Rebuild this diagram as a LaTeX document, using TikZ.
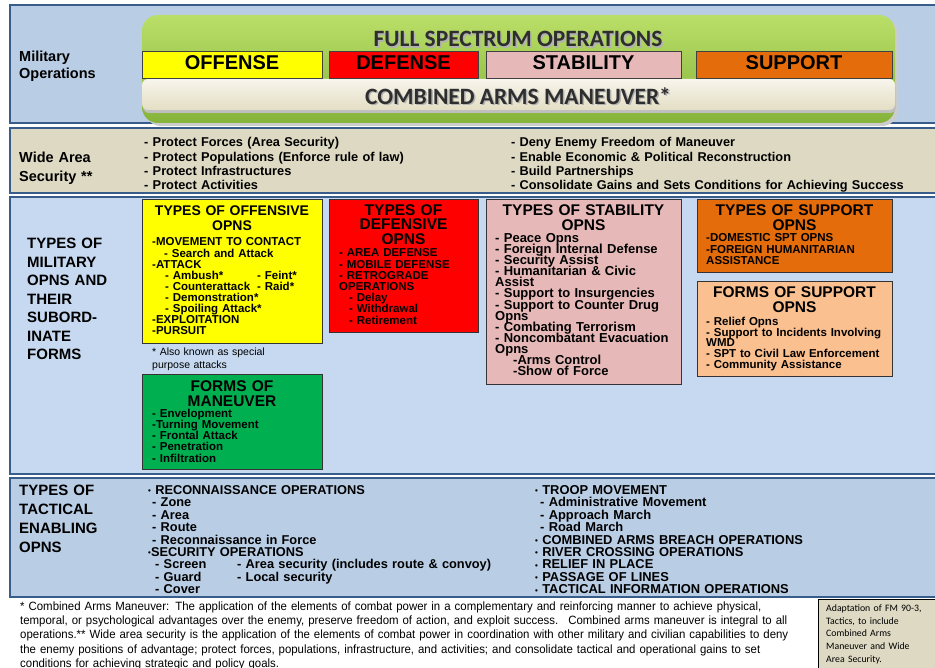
\documentclass[tikz,border=0pt]{standalone}
\usepackage{fontspec}
\setmainfont{Liberation Sans}
\newfontfamily\calf{Carlito}
\newfontfamily\narrowf{Liberation Sans}[FakeStretch=0.952]
\newcommand\fsz[2]{\fontsize{#1pt}{#2pt}\selectfont\lineskiplimit=-50pt\lineskip=0pt}
\newcommand\smbul{\raisebox{0.6pt}{\fontsize{8pt}{8pt}\selectfont •}}
\definecolor{bandline}{HTML}{385D8A}
\definecolor{bandA}{HTML}{B9CDE5}
\definecolor{bandB}{HTML}{DDD9C3}
\definecolor{bandC}{HTML}{C6D9F1}
\definecolor{grnT}{HTML}{BADF68}
\definecolor{grnB}{HTML}{86B33A}
\definecolor{creamT}{HTML}{F7F5EC}
\definecolor{creamB}{HTML}{E4DEC4}
\definecolor{offY}{HTML}{FFFF00}
\definecolor{defR}{HTML}{FF0000}
\definecolor{stabP}{HTML}{E6B9B8}
\definecolor{supO}{HTML}{E46C0A}
\definecolor{supL}{HTML}{FAC090}
\definecolor{manG}{HTML}{00B050}
\definecolor{hdrtxt}{HTML}{2E2E2E}
\begin{document}
\begin{tikzpicture}[x=1pt,y=-1pt,
  band/.style={draw=bandline, line width=1.6pt},
  hbox/.style={draw=black!75, line width=0.7pt, anchor=north west, inner sep=0pt, outer sep=0pt},
  hlabel/.style={font=\bfseries\fsz{20}{20}, inner sep=0pt, text=black},
  tbox/.style={draw=black!80, line width=0.8pt, anchor=north west, inner sep=0pt, outer sep=0pt},
  ttl/.style={anchor=north, inner sep=0pt, align=center, font=\bfseries\fsz{15.5}{15}},
  lst/.style={anchor=north west, inner sep=0pt, align=left, text width=300pt},
  side/.style={anchor=north west, inner sep=0pt, align=left, text width=120pt, font=\bfseries\fsz{14.5}{18.5}},
  big/.style={inner sep=0pt, font=\calf\bfseries\fsz{23.4}{23.4}},
]
\useasboundingbox (0,0) rectangle (935,668);
\fill[white] (0,0) rectangle (935,668);

% bands
\draw[band, fill=bandA] (10,5) rectangle (940,123);
\draw[band, fill=bandB] (10,128) rectangle (940,193);
\draw[band, fill=bandC] (10,197) rectangle (940,474);
\draw[band, fill=bandA] (10,478) rectangle (940,597);

% full spectrum header
\fill[black!20, rounded corners=16pt] (145,18) rectangle (898,126);
\path[rounded corners=16pt, top color=grnT, bottom color=grnB] (142,15) rectangle (895,123);
\fill[black!25, rounded corners=6pt] (143,83) rectangle (896,113);
\path[rounded corners=6pt, top color=creamT, bottom color=creamB] (142,79) rectangle (895,110);

\node[big, text=black!30] (fsoS) at (519.5,40.5) {FULL SPECTRUM OPERATIONS};
\node[big, text=hdrtxt] (fso) at (518,39) {FULL SPECTRUM OPERATIONS};
\node[big, text=black!30] (camS) at (519.5,97.5) {COMBINED ARMS MANEUVER*};
\node[big, text=hdrtxt] (cam) at (518,96) {COMBINED ARMS MANEUVER*};

\node[hbox, fill=offY, minimum width=180pt, minimum height=27pt] (hoff) at (142,51) {};
\node[hbox, fill=defR, minimum width=149pt, minimum height=27pt] (hdef) at (329,51) {};
\node[hbox, fill=stabP, minimum width=195pt, minimum height=27pt] (hstab) at (486,51) {};
\node[hbox, fill=supO, minimum width=196pt, minimum height=27pt] (hsup) at (696,51) {};
\node[hlabel] (hoffT) at (232,62.5) {OFFENSE};
\node[hlabel] (hdefT) at (403.5,62.5) {DEFENSE};
\node[hlabel] (hstabT) at (583.5,62.5) {STABILITY};
\node[hlabel] (hsupT) at (794,62.5) {SUPPORT};

% side labels
\node[side, font=\bfseries\fsz{14.5}{17.5}] (milops) at (19,50.6) {Military\\Operations};
\node[side, font=\bfseries\fsz{14.5}{19.5}] (was) at (19,151.6) {Wide Area\\Security **};
\node[side, font=\bfseries\fsz{15}{18.5}] (types) at (27,238) {TYPES OF\\MILITARY\\OPNS AND\\THEIR\\SUBORD-\\INATE\\FORMS};
\node[side, font=\bfseries\fsz{15}{19}] (tact) at (19,484.5) {TYPES OF\\TACTICAL\\ENABLING\\OPNS};

% wide area lists
\node[lst, font=\bfseries\fsz{12.8}{14.3}] (wasL) at (144,137.3) {- Protect Forces (Area Security)\\- Protect Populations (Enforce rule of law)\\- Protect Infrastructures\\- Protect Activities};
\node[lst, text width=420pt, font=\bfseries\fsz{12.75}{14.3}] (wasR) at (511,137.3) {- Deny Enemy Freedom of Maneuver\\- Enable Economic \& Political Reconstruction\\- Build Partnerships\\- Consolidate Gains and Sets Conditions for Achieving Success};

% offensive
\node[tbox, fill=offY, minimum width=180pt, minimum height=144pt] (off) at (142,199) {};
\node[ttl, text width=180pt, font=\bfseries\fsz{14}{15}] (offT) at (232,205.8) {TYPES OF OFFENSIVE\\OPNS};
\node[lst, font=\bfseries\fsz{11.5}{11.1}] (offL) at (152,237.7) {-MOVEMENT TO CONTACT\\
\hspace*{12pt}- Search and Attack\\
-ATTACK\\
\hspace*{13pt}\makebox[92pt][l]{- Ambush*}- Feint*\\
\hspace*{13pt}\makebox[92pt][l]{- Counterattack}- Raid*\\
\hspace*{13pt}- Demonstration*\\
\hspace*{13pt}- Spoiling Attack*\\
-EXPLOITATION\\
-PURSUIT};
\node[lst, font=\fsz{10.5}{13}] (note) at (152,348) {* Also known as special\\purpose attacks};

% forms of maneuver
\node[tbox, fill=manG, minimum width=180pt, minimum height=95pt] (man) at (142,374) {};
\node[ttl, text width=180pt] (manT) at (232,380.3) {FORMS OF\\MANEUVER};
\node[lst, font=\bfseries\fsz{11.5}{11.25}] (manL) at (152,408.7) {- Envelopment\\-Turning Movement\\- Frontal Attack\\- Penetration\\- Infiltration};

% defensive
\node[tbox, fill=defR, minimum width=149pt, minimum height=133pt] (def) at (329,199) {};
\node[ttl, text width=149pt, font=\bfseries\fsz{15.5}{14.5}] (defT) at (403.5,204.3) {TYPES OF\\DEFENSIVE\\OPNS};
\node[lst, font=\bfseries\fsz{11.5}{11.2}] (defL) at (339,248.7) {- AREA DEFENSE\\- MOBILE DEFENSE\\- RETROGRADE\\OPERATIONS\\\hspace*{10pt}- Delay\\\hspace*{10pt}- Withdrawal\\\hspace*{10pt}- Retirement};

% stability
\node[tbox, fill=stabP, minimum width=195pt, minimum height=185pt] (stab) at (486,199) {};
\node[ttl, text width=195pt] (stabT) at (583.5,204.3) {TYPES OF STABILITY\\OPNS};
\node[lst, font=\bfseries\fsz{13}{11.1}] (stabL) at (495,233.2) {- Peace Opns\\- Foreign Internal Defense\\- Security Assist\\- Humanitarian \& Civic\\Assist\\- Support to Insurgencies\\- Support to Counter Drug\\Opns\\- Combating Terrorism\\- Noncombatant Evacuation\\Opns\\\hspace*{18pt}-Arms Control\\\hspace*{18pt}-Show of Force};

% support
\node[tbox, fill=supO, minimum width=195pt, minimum height=73pt] (sup) at (697,199) {};
\node[ttl, text width=195pt] (supT) at (794.5,204.3) {TYPES OF SUPPORT\\OPNS};
\node[lst, font=\bfseries\fsz{11.5}{11.5}] (supL) at (706,233.7) {-DOMESTIC SPT OPNS\\-FOREIGN HUMANITARIAN\\ASSISTANCE};

\node[tbox, fill=supL, minimum width=195pt, minimum height=95pt] (fsup) at (697,281) {};
\node[ttl, text width=195pt] (fsupT) at (794.5,286.3) {FORMS OF SUPPORT\\OPNS};
\node[lst, font=\bfseries\fsz{11.5}{10.8}] (fsupL) at (706,316.7) {- Relief Opns\\- Support to Incidents Involving\\WMD\\- SPT to Civil Law Enforcement\\- Community Assistance};

% tactical enabling
\node[lst, text width=380pt, font=\bfseries\fsz{12.8}{12.4}] (tacL) at (148,485.3) {\smbul\ RECONNAISSANCE OPERATIONS\\
\hspace*{4pt}- Zone\\
\hspace*{4pt}- Area\\
\hspace*{4pt}- Route\\
\hspace*{4pt}- Reconnaissance in Force\\
\smbul SECURITY OPERATIONS\\
\hspace*{7pt}\makebox[82pt][l]{- Screen}- Area security (includes route \& convoy)\\
\hspace*{7pt}\makebox[82pt][l]{- Guard}- Local security\\
\hspace*{7pt}- Cover};
\node[lst, text width=390pt, font=\bfseries\fsz{12.9}{12.4}] (tacR) at (535,485.3) {\smbul\ TROOP MOVEMENT\\
\hspace*{5pt}- Administrative Movement\\
\hspace*{5pt}- Approach March\\
\hspace*{5pt}- Road March\\
\smbul\ COMBINED ARMS BREACH OPERATIONS\\
\smbul\ RIVER CROSSING OPERATIONS\\
\smbul\ RELIEF IN PLACE\\
\smbul\ PASSAGE OF LINES\\
\smbul\ TACTICAL INFORMATION OPERATIONS};

% footnote
\node[lst, text width=800pt, font=\narrowf\fsz{12}{14.4}] (foot) at (20,601.2) {* Combined Arms Maneuver: The application of the elements of combat power in a complementary and reinforcing manner to achieve physical,\\
temporal, or psychological advantages over the enemy, preserve freedom of action, and exploit success.~ Combined arms maneuver is integral to all\\
operations.** Wide area security is the application of the elements of combat power in coordination with other military and civilian capabilities to deny\\
the enemy positions of advantage; protect forces, populations, infrastructure, and activities; and consolidate tactical and operational gains to set\\
conditions for achieving strategic and policy goals.};

% adaptation box
\node[draw=black, line width=0.8pt, fill=bandB, anchor=north west, inner sep=0pt, minimum width=130pt, minimum height=75pt] (adapt) at (818,599) {};
\node[lst, text width=110pt, font=\calf\fsz{9.8}{12.7}] (adaptT) at (826,604.5) {Adaptation of FM 90-3,\\Tactics, to include\\Combined Arms\\Maneuver and Wide\\Area Security.};
\end{tikzpicture}
\end{document}
